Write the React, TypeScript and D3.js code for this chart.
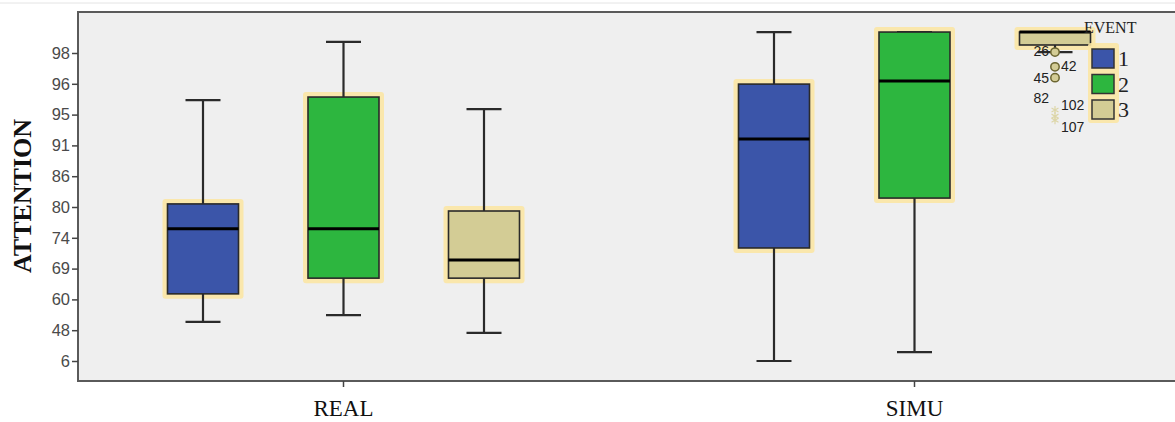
import React, { useEffect, useRef } from 'react';
import * as d3 from 'd3';

const width = 1175;
const height = 422;

// the ATTENTION axis is ordinal: labels sit at equal steps, values below are step positions
const tickLabels = ['6', '48', '60', '69', '74', '80', '86', '91', '95', '96', '98'];
const groups = ['REAL', 'SIMU'];
const events = ['1', '2', '3'];
const eventColors = ['#3b55a9', '#2db63f', '#d3cc95'];

const boxGroup = ['REAL', 'REAL', 'REAL', 'SIMU', 'SIMU', 'SIMU'];
const boxEvent = ['1', '2', '3', '1', '2', '3'];
const whiskerLow = [1.27, 1.49, 0.91, 0.0, 0.29, 10.03];
const q1 = [2.18, 2.69, 2.69, 3.67, 5.29, 10.26];
const median = [4.29, 4.29, 3.28, 7.21, 9.09, 10.68];
const q3 = [5.1, 8.57, 4.87, 8.99, 10.68, 10.68];
const whiskerHigh = [8.47, 10.36, 8.18, 10.68, 10.68, 10.68];

// outliers of SIMU / event 3
const outlierIds = ['26', '42', '45', '82', '102', '107'];
const outlierValues = [10.03, 9.55, 9.2, 8.15, 7.95, 7.82];
const outlierKinds = ['o', 'o', 'o', '*', '*', '*'];
const outlierSide = [-1, 1, -1, -1, 1, 1];
const outlierNudge = [-1, -1, 0, -12, -11, 7];

const frame = { left: 78, top: 12, bottom: 381 };
const boxW = 71;
const capW = 35;

export default function App() {
  const yAxisRef = useRef<SVGGElement>(null);
  const xAxisRef = useRef<SVGGElement>(null);

  const y = d3.scaleLinear().domain([0, tickLabels.length - 1]).range([361, 53]);
  const xGroup = d3.scaleBand().domain(groups).range([58, 1200]);
  const xEvent = d3.scalePoint().domain(events).range([-140.5, 140.5]);
  const cx = (i: number) =>
    (xGroup(boxGroup[i]) as number) + xGroup.bandwidth() / 2 + (xEvent(boxEvent[i]) as number);

  useEffect(() => {
    const yAxis = d3.axisLeft(y)
      .tickValues(d3.range(tickLabels.length))
      .tickFormat((d) => tickLabels[d as number])
      .tickSize(6)
      .tickPadding(2);
    const gy = d3.select(yAxisRef.current).call(yAxis);
    gy.select('.domain').remove();
    gy.selectAll('line').attr('stroke', '#444').attr('stroke-width', 1.5);
    gy.selectAll('text')
      .attr('fill', '#4a4a4a')
      .style('font-family', '"Liberation Sans", Arial, sans-serif')
      .style('font-size', '16.5px');

    const xAxis = d3.axisBottom(xGroup).tickSize(6).tickPadding(13);
    const gx = d3.select(xAxisRef.current).call(xAxis);
    gx.select('.domain').remove();
    gx.selectAll('line').attr('stroke', '#444').attr('stroke-width', 1.5);
    gx.selectAll('text')
      .attr('fill', '#111')
      .style('font-family', '"Liberation Serif", "Times New Roman", serif')
      .style('font-size', '23px');
  }, []);

  const ox = cx(5);
  const asterisk = d3.symbol().type(d3.symbolAsterisk).size(45);

  return (
    <svg width={width} height={height} style={{ position: 'absolute', left: 0, top: 0, background: '#fff' }}>
      <line x1={0} x2={width} y1={3} y2={3} stroke="#e4e4e4" />
      <rect x={frame.left} y={frame.top} width={width - frame.left + 10} height={frame.bottom - frame.top}
        fill="#efefef" />
      <path d={`M${width + 5},${frame.top}H${frame.left}V${frame.bottom}H${width + 5}`}
        fill="none" stroke="#5a5a5a" strokeWidth={2} />

      {boxGroup.map((g, i) => {
        const c = cx(i);
        const color = eventColors[events.indexOf(boxEvent[i])];
        const top = y(q3[i]);
        const bot = y(q1[i]);
        return (
          <g key={i}>
            <rect x={c - boxW / 2 - 5} y={top - 5} width={boxW + 10} height={bot - top + 10}
              rx={3} fill="#fbe6a4" opacity={0.9} />
            <line x1={c} x2={c} y1={y(whiskerHigh[i])} y2={top} stroke="#2a2a2a" strokeWidth={2.2} />
            <line x1={c} x2={c} y1={bot} y2={y(whiskerLow[i])} stroke="#2a2a2a" strokeWidth={2.2} />
            <line x1={c - capW / 2} x2={c + capW / 2} y1={y(whiskerHigh[i])} y2={y(whiskerHigh[i])}
              stroke="#2a2a2a" strokeWidth={2.2} />
            <line x1={c - capW / 2} x2={c + capW / 2} y1={y(whiskerLow[i])} y2={y(whiskerLow[i])}
              stroke="#2a2a2a" strokeWidth={2.2} />
            <rect x={c - boxW / 2} y={top} width={boxW} height={Math.max(bot - top, 1)}
              fill={color} stroke="#2a2a2a" strokeWidth={1.6} />
            <line x1={c - boxW / 2} x2={c + boxW / 2} y1={y(median[i])} y2={y(median[i])}
              stroke="#000" strokeWidth={3} />
          </g>
        );
      })}

      {outlierIds.map((id, i) => (
        <g key={id}>
          {outlierKinds[i] === 'o' ? (
            <circle cx={ox} cy={y(outlierValues[i])} r={4.2} fill="#d3cc95" stroke="#6b6530" strokeWidth={1.5} />
          ) : (
            <path d={asterisk() as string} transform={`translate(${ox},${y(outlierValues[i])})`}
              fill="none" stroke="#ddd6a8" strokeWidth={1.2} />
          )}
          <text x={ox + outlierSide[i] * 6} y={y(outlierValues[i]) + outlierNudge[i]} dy="0.35em"
            textAnchor={outlierSide[i] < 0 ? 'end' : 'start'} fill="#222"
            style={{ fontFamily: '"Liberation Sans", Arial, sans-serif', fontSize: 14 }}>
            {id}
          </text>
        </g>
      ))}

      <g ref={yAxisRef} transform={`translate(${frame.left},0)`} />
      <g ref={xAxisRef} transform={`translate(0,${frame.bottom})`} />

      <text transform={`translate(31,196) rotate(-90)`} textAnchor="middle"
        style={{ fontFamily: '"Liberation Serif", "Times New Roman", serif', fontSize: 26, fontWeight: 'bold' }}
        fill="#111">
        ATTENTION
      </text>

      <g>
        <rect x={1088} y={43} width={31} height={80} rx={3} fill="#fbe6a4" opacity={0.9} />
        <text x={1084} y={33} fill="#222"
          style={{ fontFamily: '"Liberation Serif", "Times New Roman", serif', fontSize: 16 }}>
          EVENT
        </text>
        {events.map((e, i) => (
          <g key={e} transform={`translate(1092,${49 + i * 25.5})`}>
            <rect width={22} height={19} fill={eventColors[i]} stroke="#333" strokeWidth={1.5} />
            <text x={26} y={17} fill="#222"
              style={{ fontFamily: '"Liberation Serif", "Times New Roman", serif', fontSize: 22 }}>
              {e}
            </text>
          </g>
        ))}
      </g>
    </svg>
  );
}
